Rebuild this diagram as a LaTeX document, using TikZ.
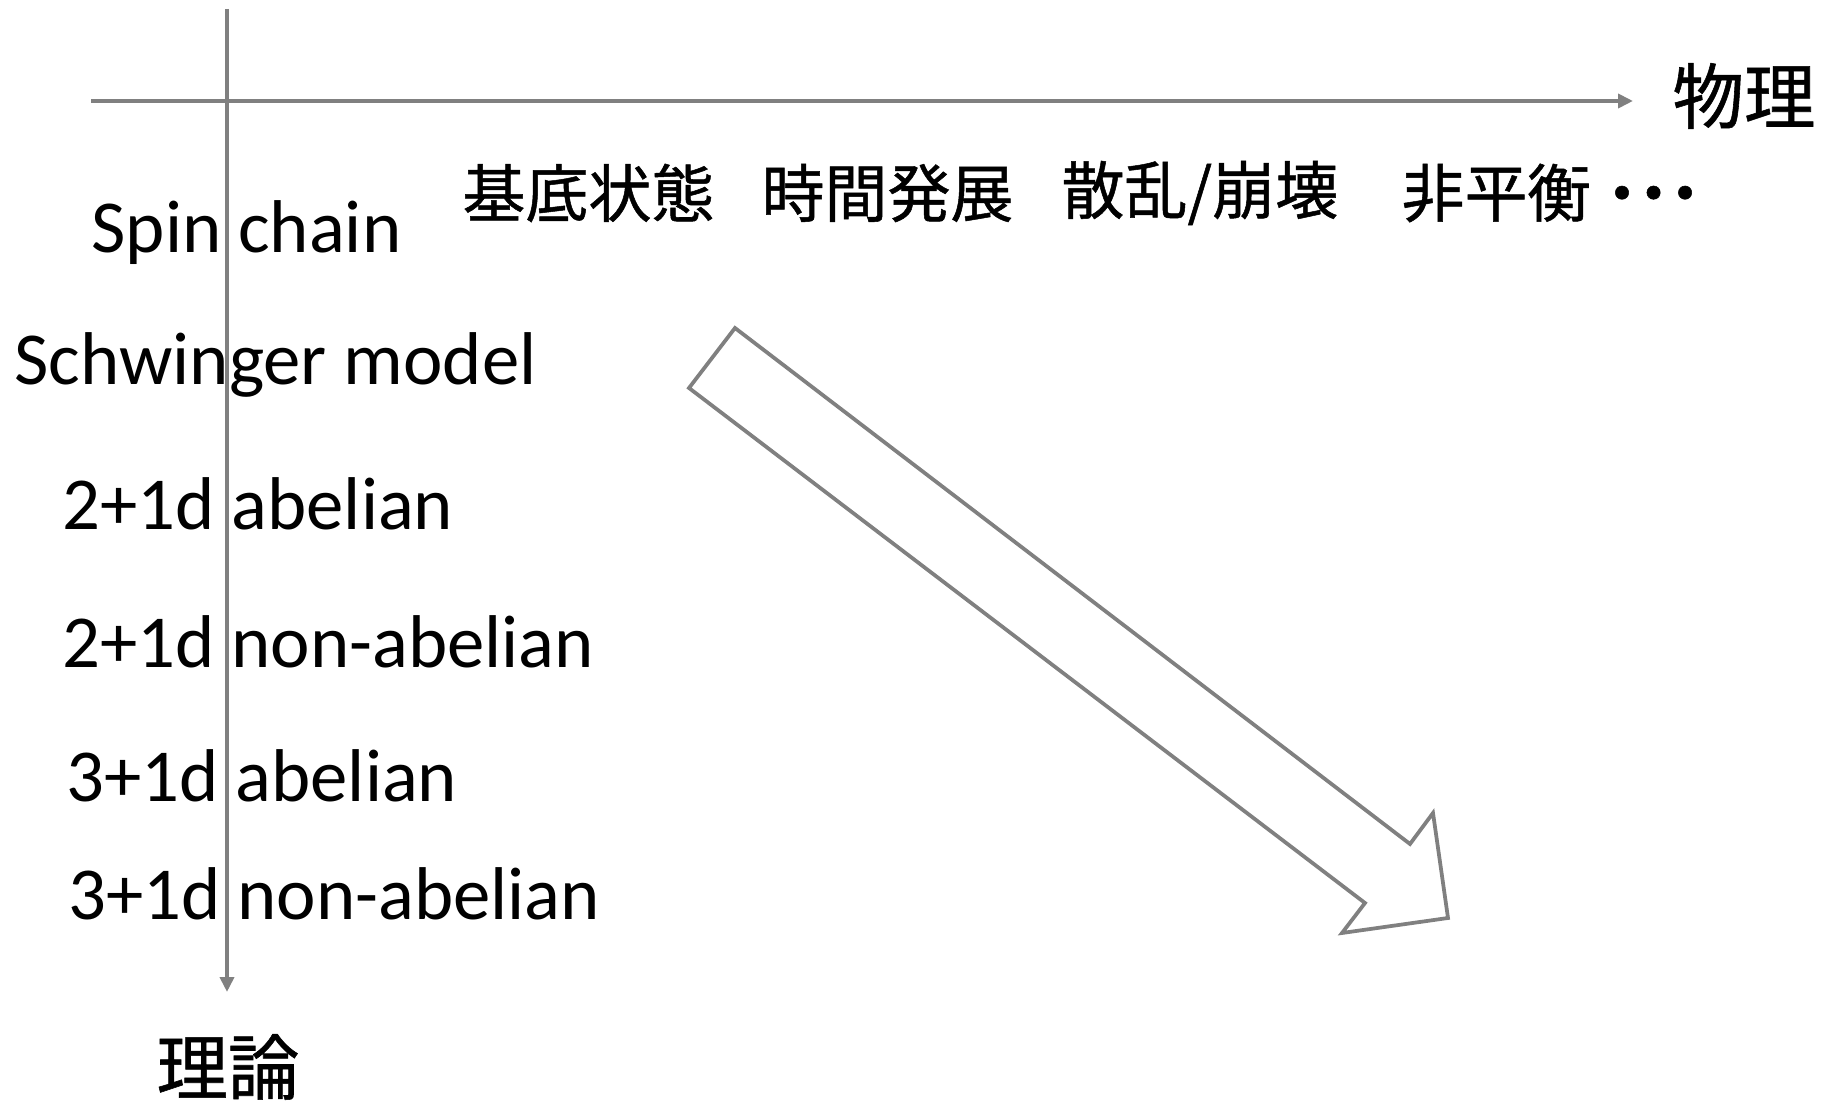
\documentclass[tikz,border=0pt]{standalone}
\usepackage{fontspec}
\setmainfont{Carlito}
\newfontfamily\jpfont[FakeBold=0.8]{Noto Sans CJK JP}
\usetikzlibrary{arrows.meta}
\definecolor{axisgray}{HTML}{808080}
\tikzset{
  axis/.style={draw=axisgray, line width=1.5pt, -{Triangle[length=6pt,width=5.6pt]}},
  lbl/.style={anchor=base west, inner sep=0pt, font=\fontsize{29.9}{34}\selectfont},
  jp/.style={anchor=center, inner sep=0pt, font=\jpfont\fontsize{25.2}{30}\selectfont},
  jpbig/.style={anchor=center, inner sep=0pt, font=\jpfont\fontsize{28.6}{34}\selectfont},
  bigarrow/.style={draw=axisgray, line width=1.5pt, fill=white, line join=miter}
}
\begin{document}
\begin{tikzpicture}[x=0.4pt,y=-0.4pt]
\useasboundingbox (0,0) rectangle (1835,1104);
% axes
\coordinate (hs) at (91,101);
\coordinate (he) at (1633,101);
\coordinate (vs) at (227,9);
\coordinate (ve) at (227,992);
\draw[axis] (hs) -- (he);
\draw[axis] (vs) -- (ve);
% axis labels
\node[jpbig] (phys) at (1744,96) {物理};
\node[jpbig] (theo) at (228,1067) {理論};
% top row
\node[jp, anchor=west] (k1) at (462,193) {基底状態};
\node[jp, anchor=west] (k2) at (761,193) {時間発展};
\node[jp, anchor=west] (k3) at (1061,193) {散乱/崩壊};
\node[jp, anchor=west] (k4) at (1401,193) {非平衡・\kern-0.5em・\kern-0.5em・};
% left labels
\node[lbl] (m1) at (91,253) {Spin chain};
\node[lbl] (m2) at (14,385) {Schwinger model};
\node[lbl] (m3) at (62,530) {2+1d abelian};
\node[lbl] (m4) at (62,668) {2+1d non-abelian};
\node[lbl] (m5) at (66,802) {3+1d abelian};
\node[lbl] (m6) at (68,920) {3+1d non-abelian};
% big hollow arrow
\draw[bigarrow] (735,328) -- (1410,844) -- (1433,813) -- (1448,918) -- (1342,933) -- (1365,903) -- (689,388) -- cycle;
\end{tikzpicture}
\end{document}
